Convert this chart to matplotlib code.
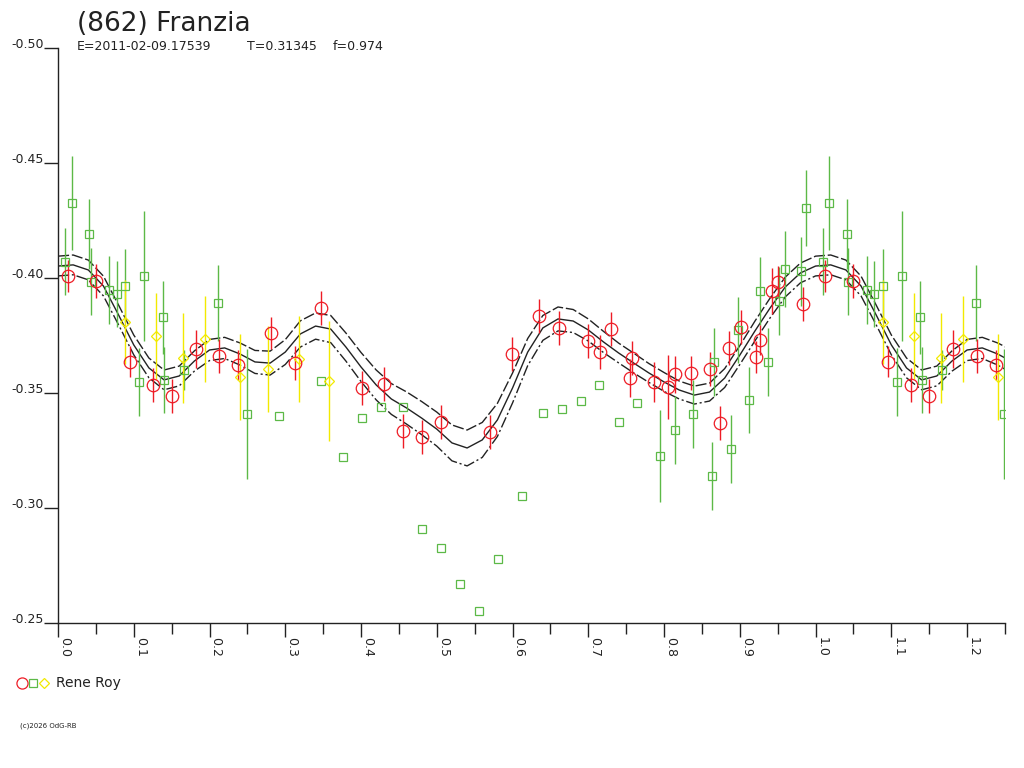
import numpy as np
import matplotlib
matplotlib.use("Agg")
import matplotlib.pyplot as plt
from matplotlib.lines import Line2D
from matplotlib.legend_handler import HandlerTuple

# ---------------- data ----------------
title = "(862) Franzia"
info_parts = ["E=2011-02-09.17539", "T=0.31345", "f=0.974"]
observer = "Rene Roy"
credit = "(c)2026 OdG-RB"

# red circles
red_phase = [0.0128, 0.0498, 0.0950, 0.1258, 0.1501, 0.1818, 0.2125, 0.2376, 0.2808, 0.3129,
             0.3468, 0.4017, 0.4308, 0.4558, 0.4809, 0.5052, 0.5703, 0.5997, 0.6354, 0.6618,
             0.7001, 0.7155, 0.7300, 0.7582, 0.7551, 0.7868, 0.8049, 0.8145, 0.8356, 0.8607,
             0.8739, 0.8862, 0.9012, 0.9215, 0.9267, 0.9422, 0.9509, 0.9831]
red_mag = [-0.4009, -0.3988, -0.3636, -0.3535, -0.3487, -0.3690, -0.3661, -0.3620, -0.3760, -0.3632,
           -0.3871, -0.3520, -0.3539, -0.3335, -0.3307, -0.3375, -0.3332, -0.3670, -0.3836, -0.3781,
           -0.3727, -0.3680, -0.3777, -0.3651, -0.3564, -0.3549, -0.3527, -0.3581, -0.3586, -0.3604,
           -0.3371, -0.3697, -0.3788, -0.3658, -0.3730, -0.3945, -0.3984, -0.3887]
red_err = [0.0070, 0.0074, 0.0068, 0.0074, 0.0074, 0.0083, 0.0074, 0.0065, 0.0070, 0.0074,
           0.0074, 0.0074, 0.0074, 0.0074, 0.0074, 0.0074, 0.0074, 0.0074, 0.0074, 0.0074,
           0.0074, 0.0074, 0.0074, 0.0074, 0.0083, 0.0087, 0.0140, 0.0080, 0.0074, 0.0074,
           0.0074, 0.0074, 0.0074, 0.0070, 0.0065, 0.0100, 0.0070, 0.0074]

# green squares
green_phase = [0.0092, 0.0181, 0.0413, 0.0432, 0.0673, 0.0775, 0.0884, 0.1135, 0.1073, 0.1382,
               0.1403, 0.1663, 0.2112, 0.2491, 0.2917, 0.3468, 0.3758, 0.4009, 0.4264, 0.4558,
               0.4809, 0.5052, 0.5307, 0.5558, 0.5805, 0.6121, 0.6407, 0.6657, 0.6904, 0.7142,
               0.7402, 0.7640, 0.7947, 0.8145, 0.8379, 0.8660, 0.8630, 0.8881, 0.8981, 0.9122,
               0.9267, 0.9369, 0.9518, 0.9597, 0.9805, 0.9871]
green_mag = [-0.4071, -0.4325, -0.4191, -0.3984, -0.3948, -0.3930, -0.3967, -0.4009, -0.3549, -0.3829,
             -0.3557, -0.3600, -0.3893, -0.3409, -0.3401, -0.3552, -0.3223, -0.3393, -0.3440, -0.3438,
             -0.2907, -0.2827, -0.2670, -0.2552, -0.2777, -0.3053, -0.3414, -0.3429, -0.3467, -0.3535,
             -0.3375, -0.3455, -0.3227, -0.3339, -0.3407, -0.3636, -0.3140, -0.3255, -0.3774, -0.3470,
             -0.3945, -0.3636, -0.3900, -0.4038, -0.4030, -0.4303]
green_err = [0.0145, 0.0204, 0.0152, 0.0145, 0.0148, 0.0145, 0.0160, 0.0283, 0.0148, 0.0160,
             0.0145, 0.0087, 0.0165, 0.0283, 0.0, 0.0, 0.0, 0.0, 0.0, 0.0,
             0.0, 0.0, 0.0, 0.0, 0.0, 0.0, 0.0, 0.0, 0.0, 0.0,
             0.0, 0.0, 0.0200, 0.0148, 0.0148, 0.0148, 0.0148, 0.0148, 0.0145, 0.0145,
             0.0148, 0.0148, 0.0148, 0.0165, 0.0150, 0.0165]

# yellow diamonds
yellow_phase = [0.0884, 0.1294, 0.1654, 0.1941, 0.2403, 0.2776, 0.3186, 0.3582]
yellow_mag = [-0.3810, -0.3748, -0.3653, -0.3733, -0.3571, -0.3603, -0.3647, -0.3552]
yellow_err = [0.0183, 0.0187, 0.0196, 0.0187, 0.0187, 0.0187, 0.0187, 0.0261]

# fitted curve (middle) and its half band width, sampled every 0.02 in phase
curve_phase = [0.00, 0.02, 0.04, 0.06, 0.08, 0.10, 0.12, 0.14, 0.16, 0.18,
               0.20, 0.22, 0.24, 0.26, 0.28, 0.30, 0.32, 0.34, 0.36, 0.38,
               0.40, 0.42, 0.44, 0.46, 0.48, 0.50, 0.52, 0.54, 0.56, 0.58,
               0.60, 0.62, 0.64, 0.66, 0.68, 0.70, 0.72, 0.74, 0.76, 0.78,
               0.80, 0.82, 0.84, 0.86, 0.88, 0.90, 0.92, 0.94, 0.96, 0.98]
curve_mid = [-0.4052, -0.4057, -0.4035, -0.3965, -0.3839, -0.3709, -0.3609, -0.3557, -0.3574, -0.3639,
             -0.3687, -0.3696, -0.3670, -0.3635, -0.3630, -0.3678, -0.3757, -0.3791, -0.3778, -0.3700,
             -0.3613, -0.3535, -0.3474, -0.3435, -0.3391, -0.3343, -0.3283, -0.3261, -0.3296, -0.3383,
             -0.3522, -0.3678, -0.3783, -0.3822, -0.3813, -0.3774, -0.3722, -0.3674, -0.3630, -0.3587,
             -0.3548, -0.3513, -0.3491, -0.3504, -0.3565, -0.3665, -0.3770, -0.3870, -0.3961, -0.4022]
curve_band = [0.0043, 0.0043, 0.0043, 0.0043, 0.0043, 0.0043, 0.0043, 0.0043, 0.0043, 0.0044,
              0.0046, 0.0046, 0.0048, 0.0050, 0.0052, 0.0054, 0.0057, 0.0057, 0.0059, 0.0061,
              0.0063, 0.0065, 0.0067, 0.0070, 0.0072, 0.0074, 0.0078, 0.0078, 0.0076, 0.0072,
              0.0065, 0.0059, 0.0054, 0.0052, 0.0050, 0.0048, 0.0046, 0.0043, 0.0043, 0.0041,
              0.0041, 0.0039, 0.0039, 0.0039, 0.0041, 0.0041, 0.0043, 0.0043, 0.0043, 0.0043]

x_major = [0.0, 0.1, 0.2, 0.3, 0.4, 0.5, 0.6, 0.7, 0.8, 0.9, 1.0, 1.1, 1.2]
x_minor = [0.05, 0.15, 0.25, 0.35, 0.45, 0.55, 0.65, 0.75, 0.85, 0.95, 1.05, 1.15, 1.25]
y_ticks = [-0.50, -0.45, -0.40, -0.35, -0.30, -0.25]

# ---------------- style ----------------
INK = "#222222"
RED = "#ee1c25"
GREEN = "#5cb947"
YELLOW = "#f2ea00"
XMAX = 1.25

plt.rcParams["font.family"] = ["DejaVu Sans"]
plt.rcParams["axes.unicode_minus"] = False

fig = plt.figure(figsize=(10.24, 7.68), dpi=100)
ax = fig.add_axes([58 / 1024, 145 / 768, 947 / 1024, 575 / 768])


def wrap(phase, *cols):
    """Repeat the part of the cycle that is shown again after phase 1."""
    phase = np.asarray(phase, float)
    sel = phase <= XMAX - 1 + 0.011
    out = [np.concatenate([phase, phase[sel] + 1.0])]
    for c in cols:
        c = np.asarray(c, float)
        out.append(np.concatenate([c, c[sel]]))
    return out


# curves
P, M, B = wrap(curve_phase, curve_mid, curve_band)
P = np.append(P, 1.0)
M = np.append(M, curve_mid[0])
B = np.append(B, curve_band[0])
order = np.argsort(P)
P, M, B = P[order], M[order], B[order]
ax.plot(P, M, color=INK, lw=1.0, zorder=1)
ax.plot(P, M - B, color=INK, lw=1.0, ls=(0, (8, 2)), zorder=1)
ax.plot(P, M + B, color=INK, lw=1.0, ls=(0, (8, 2, 1.5, 2)), zorder=1)

# points
series = [
    (green_phase, green_mag, green_err, GREEN, "s", 6.0),
    (yellow_phase, yellow_mag, yellow_err, YELLOW, "D", 5.5),
    (red_phase, red_mag, red_err, RED, "o", 9.0),
]
for ph, mg, er, col, mk, ms in series:
    x, y, e = wrap(ph, mg, er)
    ax.errorbar(x, y, yerr=e, fmt="none", ecolor=col, elinewidth=1.0, capsize=0, zorder=2)
    ax.plot(x, y, ls="none", marker=mk, ms=ms, mfc="none", mec=col, mew=0.9, zorder=3)

# axes
ax.set_xlim(0, XMAX)
ax.set_ylim(-0.25, -0.50)
for s in ("top", "right"):
    ax.spines[s].set_visible(False)
for s in ("left", "bottom"):
    ax.spines[s].set_color(INK)
    ax.spines[s].set_linewidth(1.0)

ax.set_xticks(x_major)
ax.set_xticklabels([f"{v:.1f}" for v in x_major])
ax.set_xticks(x_minor, minor=True)
ax.set_yticks(y_ticks)
ax.set_yticklabels([f"{v:.2f}" for v in y_ticks])
ax.tick_params(axis="x", which="major", length=10, width=1.0, color=INK, pad=0,
               labelsize=9, labelcolor=INK)
ax.tick_params(axis="x", which="minor", length=8, width=1.0, color=INK)
ax.tick_params(axis="y", which="major", length=10, width=1.0, color=INK, pad=0,
               labelsize=9, labelcolor=INK)
for lbl in ax.get_xticklabels():
    lbl.set_rotation(270)
    lbl.set_ha("left")
    lbl.set_va("top")
for lbl in ax.get_yticklabels():
    lbl.set_va("baseline")

# header texts
fig.text(77 / 1024, 1 - 31 / 768, title, fontsize=19, color=INK, va="baseline", ha="left")
for xp, part in zip([77, 247, 333], info_parts):
    fig.text(xp / 1024, 1 - 50 / 768, part, fontsize=9, color=INK, va="baseline", ha="left")

# legend
h_r = Line2D([], [], ls="none", marker="o", ms=8, mfc="none", mec=RED, mew=0.9)
h_g = Line2D([], [], ls="none", marker="s", ms=5.5, mfc="none", mec=GREEN, mew=0.9)
h_y = Line2D([], [], ls="none", marker="D", ms=5.0, mfc="none", mec=YELLOW, mew=0.9)
fig.legend(handles=[(h_r, h_g, h_y)], labels=[observer],
           handler_map={tuple: HandlerTuple(ndivide=None, pad=0.0)},
           loc="center left", bbox_to_anchor=(16 / 1024, 1 - 683.5 / 768),
           frameon=False, fontsize=10, labelcolor=INK, handlelength=2.4,
           handletextpad=0.5, borderpad=0, borderaxespad=0)

fig.text(20 / 1024, 1 - 726 / 768, credit, fontsize=5, color=INK, va="center", ha="left")

fig.savefig("out.png", dpi=100)
